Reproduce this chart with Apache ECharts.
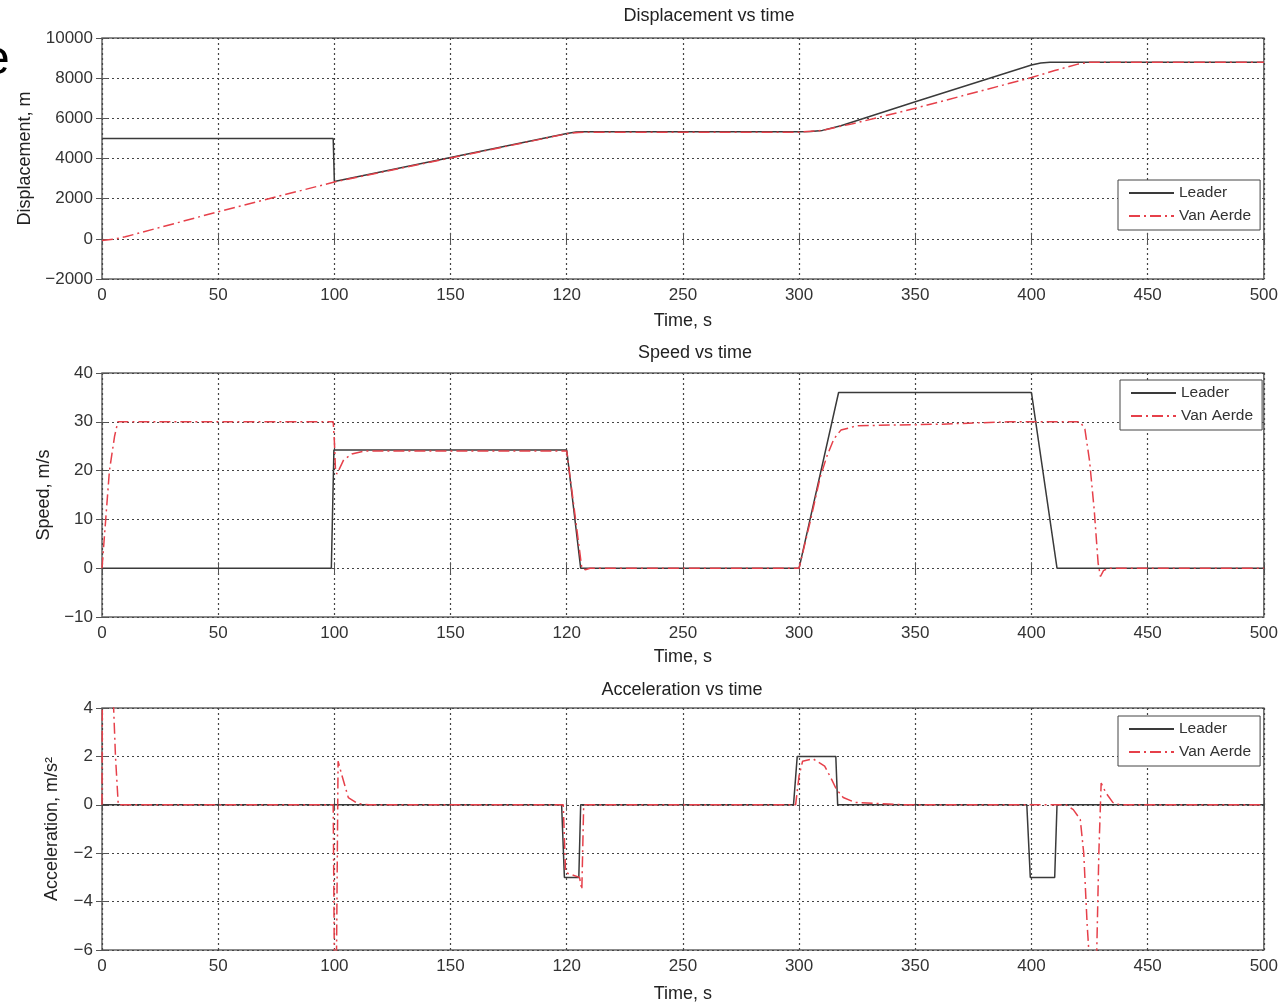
<!DOCTYPE html>
<html><head><meta charset="utf-8">
<script src="https://cdn.jsdelivr.net/npm/echarts@6/dist/echarts.min.js"></script>
<style>html,body{margin:0;padding:0;background:#fff}#c{width:1281px;height:1004px}</style>
</head><body><div id="c"></div>
<script>
// ---- tick labels (as printed in the original, including its "120") ----
const timeTickLabels = ['0','50','100','150','120','250','300','350','400','450','500'];

// ---- data: [time s, value] ----
const dispLeader = [[0,5000],[99.5,5000],[100,2850],[150,4050],[200,5250],[204,5320],[207,5330],[300,5330],[305,5345],[310,5400],[318,5630],[350,6830],[400,8655],[404,8760],[408,8790],[500,8790]];
const dispVanAerde = [[0,-80],[5,-20],[10,100],[50,1350],[100,2830],[150,4030],[200,5230],[205,5300],[210,5310],[300,5310],[310,5400],[318,5610],[322,5700],[350,6500],[400,8030],[410,8380],[420,8700],[425,8790],[500,8790]];

const speedLeader = [[0,0],[98.7,0],[99.8,24.2],[200,24.2],[206,0],[300,0],[317,36],[400,36],[411,0],[500,0]];
const speedVanAerde = [[0,0],[0.7,4.4],[3.2,20],[5.4,27],[6.8,30],[99.5,30],[100,26],[100.5,20],[101.1,19.3],[104,22.2],[107.5,23.4],[113,24],[200,24],[203,13],[206.5,0],[208,-0.3],[210,0],[300,0],[305,10],[309,18.5],[312,23],[315,26.5],[318,28.3],[325,29.2],[360,29.5],[390,30],[421,30],[423,28.5],[425,22],[427,12],[428.7,1],[429.7,-1.7],[431,-0.5],[433,0],[500,0]];

const accLeader = [[0,0],[197.8,0],[199,-3],[205.2,-3],[206,0],[297.6,0],[299.2,2],[315.8,2],[316.6,0],[398,0],[399.5,-3],[410,-3],[411,0],[500,0]];
const accVanAerde = [[0,0],[0.2,6],[4.8,4.5],[5.8,2],[7,0],[99.5,0],[100,-6.5],[100.9,-6.5],[101.6,1.8],[103,1.3],[106,0.3],[110,0.05],[115,0],[198.5,0],[199.5,-2.8],[205.5,-3],[206.5,-3.5],[207.3,0],[298.5,0],[300,1.2],[301.5,1.8],[306,1.9],[311,1.6],[314,1.05],[316,0.65],[319,0.3],[324,0.1],[335,0.05],[345,0],[415,0],[418,-0.2],[421,-0.6],[422.5,-2],[424,-5],[425,-6.5],[428,-6.5],[429,-2],[430,0.9],[432,0.5],[435,0.1],[438,0],[500,0]];

const panelTitles = ['Displacement vs time','Speed vs time','Acceleration vs time'];
const yNames = ['Displacement, m','Speed, m/s','Acceleration, m/s\u00B2'];
const xName = 'Time, s';
const seriesNames = ['Leader','Van Aerde'];

// ---- layout / style ----
const FONT = 'Liberation Sans';
const gridTops = [38, 373, 708];
const gridHeights = [241, 244, 245];
const yRanges = [{min:-2000,max:10000,interval:2000},{min:-10,max:40,interval:10},{min:-6,max:4,interval:2}];
const yNameGaps = [66, 49, 41];
const xNameGaps = [33, 31, 35];
const titleCenters = [[709, 7],[695, 344],[682, 681]];
const legendPos = [[1118,180],[1120,380],[1118,716]];
const LEADER_C = '#3a3a3a', VA_C = '#e6404a';

const tickStyle = {inside:true, length:6, lineStyle:{color:'#555', width:1}};
const splitStyle = {show:true, lineStyle:{color:'#444', width:1.2, type:[2,3]}};
const labelFont = {fontSize:17, color:'#333', fontFamily:FONT};
const nameFont = {fontSize:18, color:'#222', fontFamily:FONT};

const grids = [], xAxes = [], yAxes = [], titles = [], legends = [], series = [];
const panels = [[dispLeader, dispVanAerde],[speedLeader, speedVanAerde],[accLeader, accVanAerde]];

for (let i = 0; i < 3; i++) {
  grids.push({left:102, right:13, top:gridTops[i], height:gridHeights[i], show:true, borderColor:'#666', borderWidth:1.5, backgroundColor:'#fff'});
  xAxes.push({type:'value', gridIndex:i, min:0, max:500, interval:50,
    name:xName, nameLocation:'middle', nameGap:xNameGaps[i], nameTextStyle:nameFont,
    axisLine:{show:false}, axisTick:tickStyle,
    axisLabel:Object.assign({margin:8, formatter:v => timeTickLabels[Math.round(v/50)]}, labelFont),
    splitLine:splitStyle});
  yAxes.push(Object.assign({type:'value', gridIndex:i,
    name:yNames[i], nameLocation:'middle', nameGap:yNameGaps[i], nameTextStyle:nameFont,
    axisLine:{show:false}, axisTick:tickStyle,
    axisLabel:Object.assign({margin:9, formatter:v => String(v).replace('-', '\u2212')}, labelFont),
    splitLine:splitStyle}, yRanges[i]));
  titles.push({text:panelTitles[i], left:titleCenters[i][0], top:titleCenters[i][1], textAlign:'center', padding:0,
    textStyle:{fontSize:18, fontWeight:'normal', color:'#222', fontFamily:FONT}});
  legends.push({data:seriesNames, orient:'vertical', left:legendPos[i][0], top:legendPos[i][1],
    backgroundColor:'#fff', borderColor:'#444', borderWidth:1, borderRadius:0, padding:[5,9,6,10], itemGap:7,
    itemWidth:45, itemHeight:14, itemStyle:{opacity:0},
    textStyle:{fontSize:15.5, color:'#333', fontFamily:FONT}});
  series.push({name:seriesNames[0], type:'line', xAxisIndex:i, yAxisIndex:i, data:panels[i][0], symbol:'none', showSymbol:false,
    lineStyle:{color:LEADER_C, width:1.5}, itemStyle:{color:LEADER_C}, z:3});
  series.push({name:seriesNames[1], type:'line', xAxisIndex:i, yAxisIndex:i, data:panels[i][1], symbol:'none', showSymbol:false,
    lineStyle:{color:VA_C, width:1.5, type:[11,4,2,4]}, itemStyle:{color:VA_C}, z:4});
}
// top and right axes carrying the inward ticks of the box
for (let i = 0; i < 3; i++) {
  xAxes.push({type:'value', gridIndex:i, position:'top', min:0, max:500, interval:50,
    axisLine:{show:false}, axisTick:tickStyle, axisLabel:{show:false}, splitLine:{show:false}});
  yAxes.push(Object.assign({type:'value', gridIndex:i, position:'right',
    axisLine:{show:false}, axisTick:tickStyle, axisLabel:{show:false}, splitLine:{show:false}}, yRanges[i]));
}

const chart = echarts.init(document.getElementById('c'), null, {renderer:'canvas'});
chart.setOption({
  animation:false,
  backgroundColor:'#fff',
  title:titles,
  legend:legends,
  grid:grids,
  xAxis:xAxes,
  yAxis:yAxes,
  series:series,
  graphic:[{type:'text', left:-17, top:37, style:{text:'e', fontSize:48, fontFamily:FONT, fill:'#000'}}]
});
</script></body></html>
